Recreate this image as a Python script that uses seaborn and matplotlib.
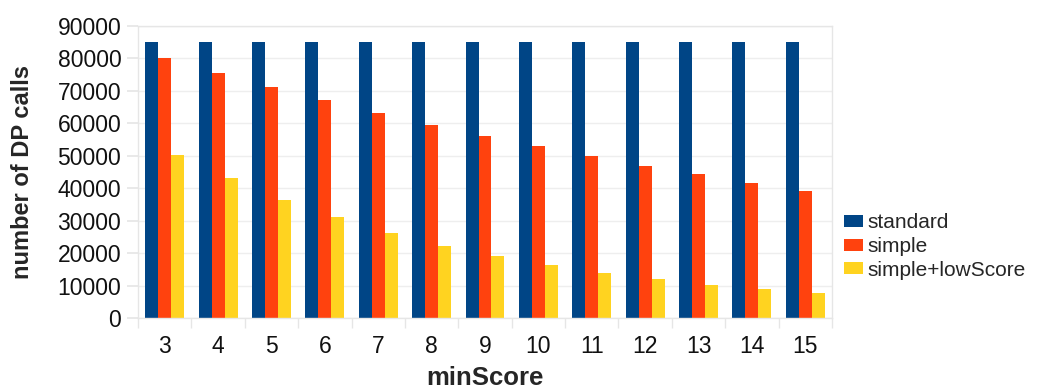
import matplotlib
matplotlib.use("Agg")
import matplotlib.pyplot as plt
import seaborn as sns
import pandas as pd
import numpy as np

min_scores = [3, 4, 5, 6, 7, 8, 9, 10, 11, 12, 13, 14, 15]
standard = [85000] * 13
simple = [80000, 75400, 71100, 67100, 63100, 59600, 56100, 52900, 49800, 47000, 44300, 41600, 39200]
simple_low = [50300, 43000, 36500, 31000, 26300, 22300, 19000, 16200, 13900, 11900, 10300, 8800, 7800]
series_names = ["standard", "simple", "simple+lowScore"]
colors = ["#004586", "#ff420e", "#ffd320"]
y_ticks = list(range(0, 90001, 10000))

df = pd.DataFrame({
    "minScore": [str(m) for m in min_scores] * 3,
    "calls": standard + simple + simple_low,
    "series": [s for s in series_names for _ in min_scores],
})

sns.set_theme(style="white")
plt.rcParams["font.family"] = ["Liberation Sans", "DejaVu Sans"]

fig = plt.figure(figsize=(10.38, 3.90), dpi=100)
ax = fig.add_axes([138 / 1038, 1 - 318 / 390, (832 - 138) / 1038, (318 - 26) / 390])

sns.barplot(data=df, x="minScore", y="calls", hue="series", hue_order=series_names,
            palette=colors, width=0.73, gap=0, saturation=1, linewidth=0,
            ax=ax, legend=True)

ax.set_ylim(0, 90000)
ax.set_xlim(-0.5, len(min_scores) - 0.5)
ax.set_yticks(y_ticks)
ax.set_yticklabels([str(v) for v in y_ticks])
ax.yaxis.grid(True, color="#eeeeee", linewidth=1)
ax.set_axisbelow(True)

for s in ax.spines.values():
    s.set_visible(True)
    s.set_color("#e6e6e6")
    s.set_linewidth(1)

ax.tick_params(axis="y", which="major", length=8, color="#e6e6e6", labelsize=16.5, pad=4,
               left=True, labelcolor="#111111")
ax.tick_params(axis="x", which="major", length=0, labelsize=16.5, pad=12, labelcolor="#111111")
ax.set_xticks(np.arange(-0.5, len(min_scores)), minor=True)
ax.tick_params(axis="x", which="minor", length=7, color="#e6e6e6", bottom=True)

ax.set_xlabel("minScore", fontsize=18.5, fontweight="bold", labelpad=6)
ax.set_ylabel("number of DP calls", fontsize=17, fontweight="bold", labelpad=17)

handles, labels = ax.get_legend_handles_labels()
ax.legend(handles, labels, loc="center left", bbox_to_anchor=(1.006, 0.245),
          frameon=False, fontsize=15, handlelength=0.9, handleheight=0.5,
          handletextpad=0.2, labelspacing=0.22, borderaxespad=0)

fig.savefig("out.png", dpi=100)
